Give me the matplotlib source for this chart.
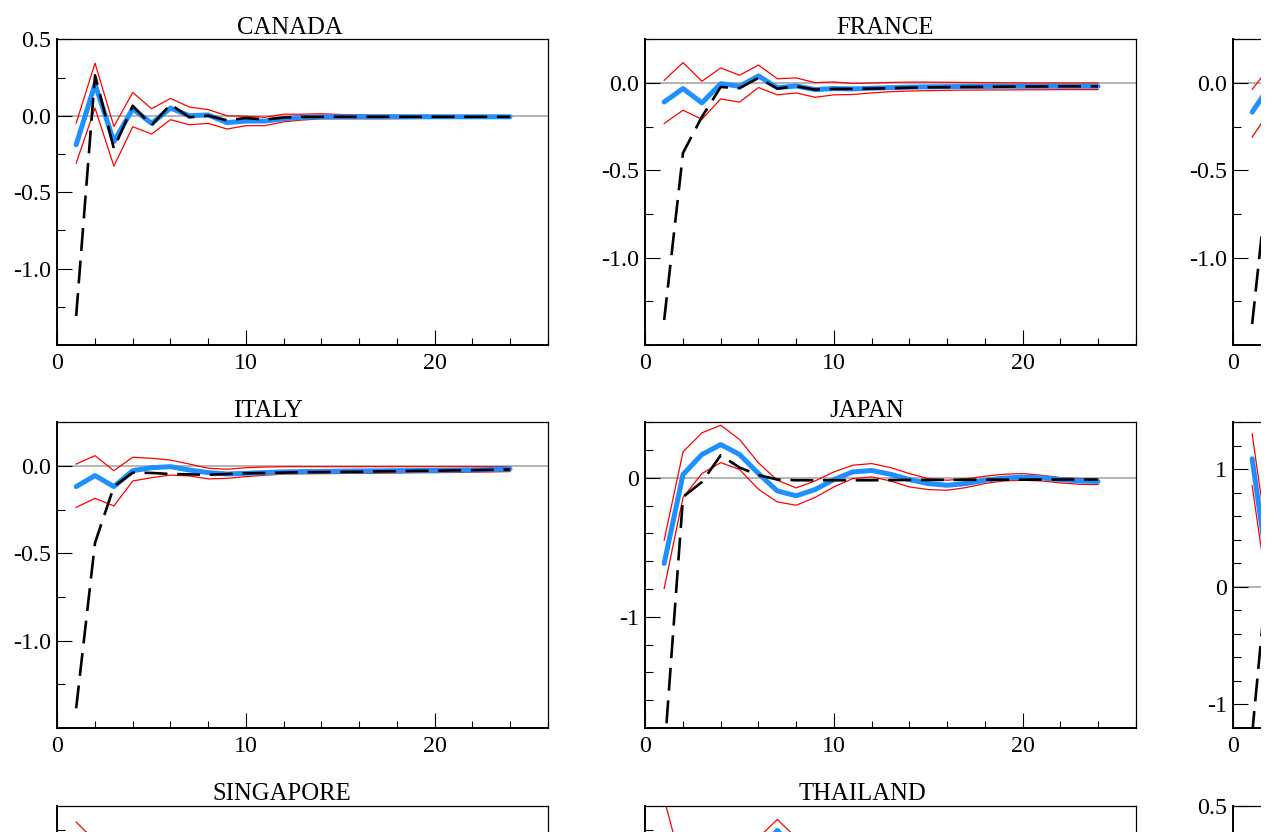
import matplotlib
matplotlib.use("Agg")
import matplotlib.pyplot as plt
from matplotlib.patches import Rectangle
from matplotlib.ticker import FixedLocator, MultipleLocator, FixedFormatter

plt.rcParams['font.family'] = ['Liberation Serif', 'DejaVu Serif']
plt.rcParams['axes.unicode_minus'] = False
plt.rcParams['lines.scale_dashes'] = False

horizons = list(range(1, 25))

# ---------------- CANADA ----------------
canada_blue = [-0.19, 0.207, -0.17, 0.046, -0.05, 0.05, 0.0, 0.005, -0.045, -0.035, -0.035, -0.02,
               -0.01, -0.008, -0.007, -0.007, -0.007, -0.007, -0.007, -0.007, -0.007, -0.007, -0.007, -0.007]
canada_black = [-1.31, 0.265, -0.215, 0.065, -0.063, 0.074, -0.01, 0.0, -0.03, -0.015, -0.025, -0.012,
                -0.008, -0.007, -0.007, -0.007, -0.007, -0.007, -0.007, -0.007, -0.007, -0.007, -0.007, -0.007]
canada_upper = [-0.048, 0.344, -0.07, 0.152, 0.046, 0.113, 0.057, 0.04, 0.0, -0.004, -0.01, 0.01,
                0.01, 0.013, 0.008, 0.005, 0.004, 0.003, 0.002, 0.002, 0.001, 0.0, 0.0, 0.0]
canada_lower = [-0.31, 0.05, -0.33, -0.072, -0.12, -0.026, -0.059, -0.05, -0.087, -0.065, -0.065, -0.04,
                -0.028, -0.02, -0.02, -0.02, -0.02, -0.019, -0.018, -0.017, -0.016, -0.015, -0.015, -0.015]

# ---------------- FRANCE ----------------
france_blue = [-0.109, -0.032, -0.114, -0.004, -0.019, 0.04, -0.027, -0.017, -0.038, -0.032, -0.034, -0.03,
               -0.027, -0.024, -0.022, -0.021, -0.02, -0.02, -0.019, -0.019, -0.019, -0.019, -0.019, -0.019]
france_black = [-1.357, -0.40, -0.194, -0.023, -0.03, 0.029, -0.032, -0.019, -0.038, -0.034, -0.034, -0.032,
                -0.03, -0.027, -0.025, -0.024, -0.023, -0.022, -0.021, -0.02, -0.02, -0.019, -0.019, -0.019]
france_upper = [0.015, 0.117, 0.01, 0.086, 0.044, 0.103, 0.024, 0.029, 0.002, 0.006, -0.003, 0.0,
                0.003, 0.005, 0.005, 0.004, 0.003, 0.002, 0.001, 0.0, 0.0, 0.0, 0.0, 0.0]
france_lower = [-0.232, -0.156, -0.208, -0.091, -0.11, -0.026, -0.068, -0.057, -0.082, -0.068, -0.066, -0.057,
                -0.05, -0.046, -0.044, -0.042, -0.041, -0.04, -0.04, -0.039, -0.039, -0.038, -0.038, -0.038]

# ---------------- ITALY ----------------
italy_blue = [-0.118, -0.055, -0.118, -0.027, -0.01, -0.004, -0.023, -0.038, -0.046, -0.042, -0.038, -0.034,
              -0.032, -0.031, -0.03, -0.029, -0.028, -0.027, -0.026, -0.025, -0.024, -0.023, -0.02, -0.017]
italy_black = [-1.387, -0.44, -0.118, -0.038, -0.04, -0.046, -0.048, -0.05, -0.046, -0.042, -0.04, -0.038,
               -0.036, -0.035, -0.034, -0.033, -0.031, -0.03, -0.028, -0.027, -0.025, -0.024, -0.022, -0.02]
italy_upper = [0.011, 0.059, -0.027, 0.05, 0.044, 0.034, 0.011, -0.013, -0.019, -0.01, -0.006, -0.004,
               -0.004, -0.004, -0.004, -0.004, -0.004, -0.004, -0.004, -0.004, -0.004, -0.004, -0.004, -0.004]
italy_lower = [-0.237, -0.185, -0.229, -0.086, -0.067, -0.052, -0.057, -0.074, -0.071, -0.061, -0.053, -0.046,
               -0.045, -0.044, -0.043, -0.042, -0.041, -0.04, -0.039, -0.038, -0.037, -0.035, -0.034, -0.032]

# ---------------- JAPAN ----------------
japan_blue = [-0.616, 0.024, 0.168, 0.24, 0.168, 0.031, -0.094, -0.129, -0.084, -0.012, 0.043, 0.053,
              0.026, -0.012, -0.041, -0.053, -0.041, -0.017, -0.002, 0.005, 0.0, -0.012, -0.022, -0.026]
japan_black = [-2.0, -0.137, -0.03, 0.163, 0.074, 0.02, -0.012, -0.017, -0.017, -0.017, -0.017, -0.017,
               -0.016, -0.015, -0.015, -0.014, -0.014, -0.013, -0.013, -0.013, -0.012, -0.012, -0.012, -0.012]
japan_upper = [-0.448, 0.187, 0.324, 0.379, 0.276, 0.108, -0.017, -0.072, -0.022, 0.043, 0.091, 0.103,
               0.074, 0.031, -0.005, -0.017, -0.007, 0.012, 0.026, 0.031, 0.019, 0.002, -0.005, -0.012]
japan_lower = [-0.796, -0.141, 0.031, 0.11, 0.06, -0.082, -0.173, -0.197, -0.141, -0.065, -0.005, 0.007,
               -0.022, -0.065, -0.084, -0.089, -0.07, -0.041, -0.022, -0.017, -0.022, -0.036, -0.046, -0.048]

# ---------------- right column (only the first horizons are visible) ----------------
col3a_blue = [-0.167, -0.005, 0.0]
col3a_black = [-1.38, -0.37, -0.05]
col3a_upper = [-0.036, 0.10, 0.05]
col3a_lower = [-0.31, -0.15, -0.08]

col3b_blue = [1.09, -0.05, 0.0]
col3b_black = [-1.25, 0.45, 0.1]
col3b_upper = [1.30, 0.18, 0.2]
col3b_lower = [0.86, -0.25, -0.2]

# ---------------- bottom row (only a top strip is visible) ----------------
singapore_blue = [0.15, -0.1, -0.05, 0.0, 0.0]
singapore_black = [-1.3, 0.0, -0.05, 0.0, 0.0]
singapore_upper = [0.297, 0.18, 0.1, 0.08, 0.05]
singapore_lower = [0.0, -0.3, -0.15, -0.1, -0.1]

thailand_blue = [-0.2, -0.3, -0.2, -0.1, 0.0, 0.12, 0.245, 0.12, -0.05, -0.05]
thailand_black = [-1.3, -0.3, -0.2, -0.1, -0.05, -0.02, 0.0, -0.02, -0.05, -0.05]
thailand_upper = [0.44, 0.0, 0.0, 0.05, 0.1, 0.2, 0.313, 0.2, 0.05, 0.05]
thailand_lower = [-0.4, -0.5, -0.4, -0.3, -0.2, -0.15, -0.1, -0.15, -0.2, -0.2]

col3c_blue = [0.0, 0.0]
col3c_black = [-1.0, 0.0]
col3c_upper = [0.25, 0.1]
col3c_lower = [-0.3, -0.1]

# ---------------- layout ----------------
W, H = 1271, 832
fig = plt.figure(figsize=(W / 100, H / 100), dpi=100)

col_left = [57.3, 645.3, 1233.3]
row_top = [39.3, 422.3, 805.5]
ax_w, ax_h = 490.4, 305.7

BLUE = '#1E90FF'
TICK_FS = 17.3
TITLE_FS = 17.8


def make_axes(r, c):
    x0 = col_left[c] / W
    y0 = 1 - (row_top[r] + ax_h) / H
    return fig.add_axes([x0, y0, ax_w / W, ax_h / H])


def panel(r, c, title, title_x, blue, black, upper, lower, ylim, major, minor, ylabels, xlabels):
    ax = make_axes(r, c)
    n = len(blue)
    xs = horizons[:n]
    ax.axhline(0, color='#A0A0A0', lw=1.1, zorder=1)
    ax.plot(xs, upper, color='red', lw=0.9, zorder=2)
    ax.plot(xs, lower, color='red', lw=0.9, zorder=2)
    ax.plot(xs, blue, color=BLUE, lw=3.6, zorder=3, solid_capstyle='round')
    ax.plot(xs, black, color='black', lw=1.9, dashes=(16.5, 7.0),
            dash_capstyle='butt', zorder=5)
    ax.set_xlim(0, 26)
    ax.set_ylim(*ylim)
    ax.xaxis.set_major_locator(FixedLocator([0, 10, 20]))
    ax.xaxis.set_major_formatter(FixedFormatter(xlabels))
    ax.xaxis.set_minor_locator(MultipleLocator(2))
    ax.yaxis.set_major_locator(FixedLocator(major))
    ax.yaxis.set_major_formatter(FixedFormatter(ylabels))
    ax.yaxis.set_minor_locator(MultipleLocator(minor))
    ax.tick_params(axis='both', which='major', direction='in', length=10.8, width=0.8,
                   labelsize=TICK_FS, top=False, right=False)
    ax.tick_params(axis='both', which='minor', direction='in', length=5.4, width=0.8,
                   top=False, right=False)
    ax.tick_params(axis='y', which='major', pad=4.5)
    ax.tick_params(axis='x', which='major', pad=5.5)
    for side in ('left', 'bottom'):
        ax.spines[side].set_linewidth(1.4)
    for side in ('top', 'right'):
        ax.spines[side].set_linewidth(0.9)
    if title:
        ax.set_title(title, fontsize=TITLE_FS, pad=2.5, x=title_x)
    return ax


y_a = [0.5, 0.0, -0.5, -1.0]
y_a_lab = ['0.5', '0.0', '-0.5', '-1.0']
y_b = [0.0, -0.5, -1.0]
y_b_lab = ['0.0', '-0.5', '-1.0']
x_lab = ['0', '10', '20']
x_lab_edge = ['0', '', '']
x_lab_none = ['', '', '']

panel(0, 0, 'CANADA', 0.474, canada_blue, canada_black, canada_upper, canada_lower,
      (-1.5, 0.5), y_a, 0.25, y_a_lab, x_lab)
panel(0, 1, 'FRANCE', 0.489, france_blue, france_black, france_upper, france_lower,
      (-1.5, 0.25), y_b, 0.25, y_b_lab, x_lab)
panel(0, 2, None, 0.5, col3a_blue, col3a_black, col3a_upper, col3a_lower,
      (-1.5, 0.25), y_b, 0.25, y_b_lab, x_lab_edge)
panel(1, 0, 'ITALY', 0.430, italy_blue, italy_black, italy_upper, italy_lower,
      (-1.5, 0.25), y_b, 0.25, y_b_lab, x_lab)
panel(1, 1, 'JAPAN', 0.452, japan_blue, japan_black, japan_upper, japan_lower,
      (-1.8, 0.4), [0, -1], 0.2, ['0', '-1'], x_lab)
panel(1, 2, None, 0.5, col3b_blue, col3b_black, col3b_upper, col3b_lower,
      (-1.2, 1.4), [1, 0, -1], 0.2, ['1', '0', '-1'], x_lab_edge)
panel(2, 0, 'SINGAPORE', 0.458, singapore_blue, singapore_black, singapore_upper, singapore_lower,
      (-1.5, 0.4), y_b, 0.25, ['', '', ''], x_lab_none)
panel(2, 1, 'THAILAND', 0.443, thailand_blue, thailand_black, thailand_upper, thailand_lower,
      (-1.5, 0.4), y_b, 0.25, ['', '', ''], x_lab_none)
panel(2, 2, None, 0.5, col3c_blue, col3c_black, col3c_upper, col3c_lower,
      (-1.5, 0.5), y_a, 0.25, ['0.5', '', '', ''], x_lab_none)

# white strip along the right edge, as in the cropped original
fig.patches.append(Rectangle((1261 / W, 0), 10 / W, 1, transform=fig.transFigure,
                             facecolor='white', edgecolor='none', zorder=100))

fig.savefig('out.png', dpi=100)
